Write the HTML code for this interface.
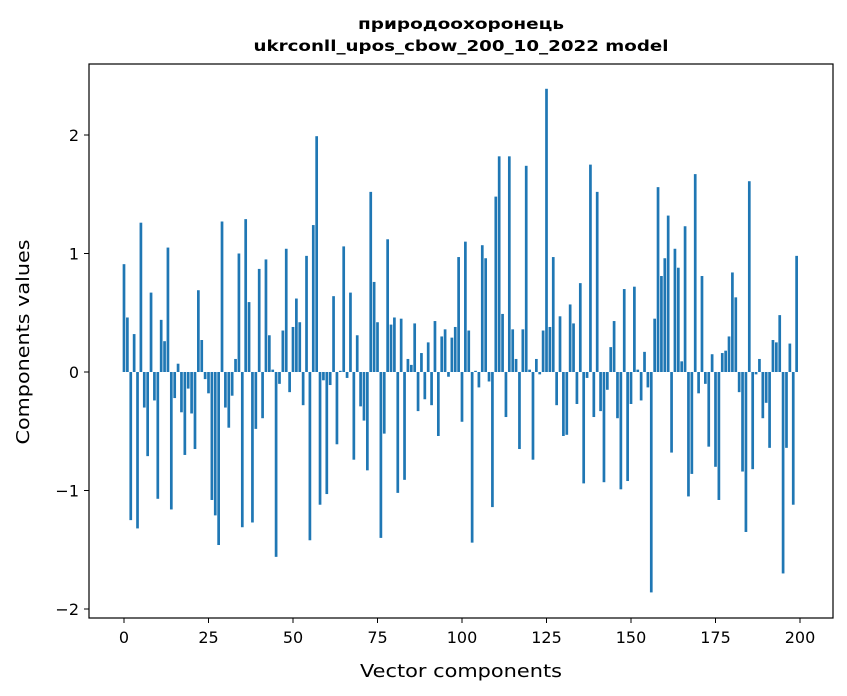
<!DOCTYPE html>
<html><head><meta charset="utf-8"><style>
html,body{margin:0;padding:0;background:#fff;}
svg{display:block;font-family:"DejaVu Sans","Liberation Sans",sans-serif;}
</style></head><body>
<svg id="chart" width="847" height="696" viewBox="0 0 847 696">
<rect width="847" height="696" fill="#fff"/>
<text x="461" y="29" text-anchor="middle" font-size="15" font-weight="bold" textLength="206" lengthAdjust="spacingAndGlyphs">природоохоронець</text>
<text x="461" y="51" text-anchor="middle" font-size="15" font-weight="bold" textLength="415" lengthAdjust="spacingAndGlyphs">ukrconll_upos_cbow_200_10_2022 model</text>
<g id="bars"></g>
<g id="axes"></g>
<rect x="89" y="64" width="744" height="554" fill="none" stroke="#000" stroke-width="1.2"/>
<text x="461" y="677" text-anchor="middle" font-size="18" textLength="202" lengthAdjust="spacingAndGlyphs">Vector components</text>
<text transform="translate(29,342) rotate(-90)" text-anchor="middle" font-size="18" textLength="205" lengthAdjust="spacingAndGlyphs">Components values</text>
</svg>
<script>
const values = [0.91,0.46,-1.25,0.32,-1.32,1.26,-0.30,-0.71,0.67,-0.24,-1.07,0.44,0.26,1.05,-1.16,-0.22,0.07,-0.34,-0.70,-0.14,
-0.35,-0.65,0.69,0.27,-0.06,-0.18,-1.08,-1.21,-1.46,1.27,-0.30,-0.47,-0.20,0.11,1.00,-1.31,1.29,0.59,-1.27,-0.48,
0.87,-0.39,0.95,0.31,0.02,-1.56,-0.10,0.35,1.04,-0.17,0.38,0.62,0.42,-0.28,0.98,-1.42,1.24,1.99,-1.12,-0.07,
-1.03,-0.11,0.64,-0.61,0.01,1.06,-0.05,0.67,-0.74,0.31,-0.29,-0.41,-0.83,1.52,0.76,0.42,-1.40,-0.52,1.12,0.40,
0.46,-1.02,0.45,-0.91,0.11,0.06,0.41,-0.33,0.16,-0.23,0.25,-0.28,0.43,-0.54,0.30,0.36,-0.04,0.29,0.38,0.97,
-0.42,1.10,0.35,-1.44,0.01,-0.13,1.07,0.96,-0.08,-1.14,1.48,1.82,0.49,-0.38,1.82,0.36,0.11,-0.65,0.36,1.74,
0.02,-0.74,0.11,-0.02,0.35,2.39,0.38,0.97,-0.28,0.47,-0.54,-0.53,0.57,0.41,-0.27,0.75,-0.94,-0.05,1.75,-0.38,
1.52,-0.33,-0.93,-0.15,0.21,0.43,-0.39,-0.99,0.70,-0.92,-0.27,0.72,0.02,-0.24,0.17,-0.13,-1.86,0.45,1.56,0.81,
0.96,1.32,-0.68,1.04,0.88,0.09,1.23,-1.05,-0.86,1.67,-0.18,0.81,-0.10,-0.63,0.15,-0.80,-1.08,0.16,0.18,0.30,
0.84,0.63,-0.17,-0.84,-1.35,1.61,-0.82,-0.02,0.11,-0.39,-0.26,-0.64,0.27,0.25,0.48,-1.70,-0.64,0.24,-1.12,0.98];
const xTicks = [0,25,50,75,100,125,150,175,200];
const yTicks = [-2,-1,0,1,2];
const yTickLabels = ["\u22122","\u22121","0","1","2"];

const NS="http://www.w3.org/2000/svg";
const xs = i => 124 + i*3.38;
const ys = v => 372 - v*118.5;
const bars=document.getElementById('bars'), axes=document.getElementById('axes');
values.forEach((v,i)=>{
  const r=document.createElementNS(NS,'rect');
  
  
  const w=0.8*3.38;
  r.setAttribute('x',xs(i)-w/2);
  r.setAttribute('y',Math.min(ys(v),ys(0)));
  r.setAttribute('width',w);
  r.setAttribute('height',Math.abs(ys(v)-ys(0)));
  r.setAttribute('fill','#1f77b4');
  bars.appendChild(r);
});
xTicks.forEach(t=>{
  const l=document.createElementNS(NS,'line');
  
  
  l.setAttribute('x1',xs(t));l.setAttribute('x2',xs(t));l.setAttribute('y1',618);l.setAttribute('y2',623);
  l.setAttribute('stroke','#000');
  axes.appendChild(l);
  const tx=document.createElementNS(NS,'text');
  
  
  tx.setAttribute('x',xs(t));tx.setAttribute('y',643);tx.setAttribute('text-anchor','middle');tx.setAttribute('font-size','16');
  tx.textContent=t;
  axes.appendChild(tx);
});
yTicks.forEach((t,k)=>{
  const l=document.createElementNS(NS,'line');
  
  
  l.setAttribute('x1',84);l.setAttribute('x2',89);l.setAttribute('y1',ys(t));l.setAttribute('y2',ys(t));
  l.setAttribute('stroke','#000');
  axes.appendChild(l);
  const tx=document.createElementNS(NS,'text');
  
  
  tx.setAttribute('x',79);tx.setAttribute('y',ys(t)+6);tx.setAttribute('text-anchor','end');tx.setAttribute('font-size','16');
  tx.textContent=yTickLabels[k];
  axes.appendChild(tx);
});
</script>
</body></html>
